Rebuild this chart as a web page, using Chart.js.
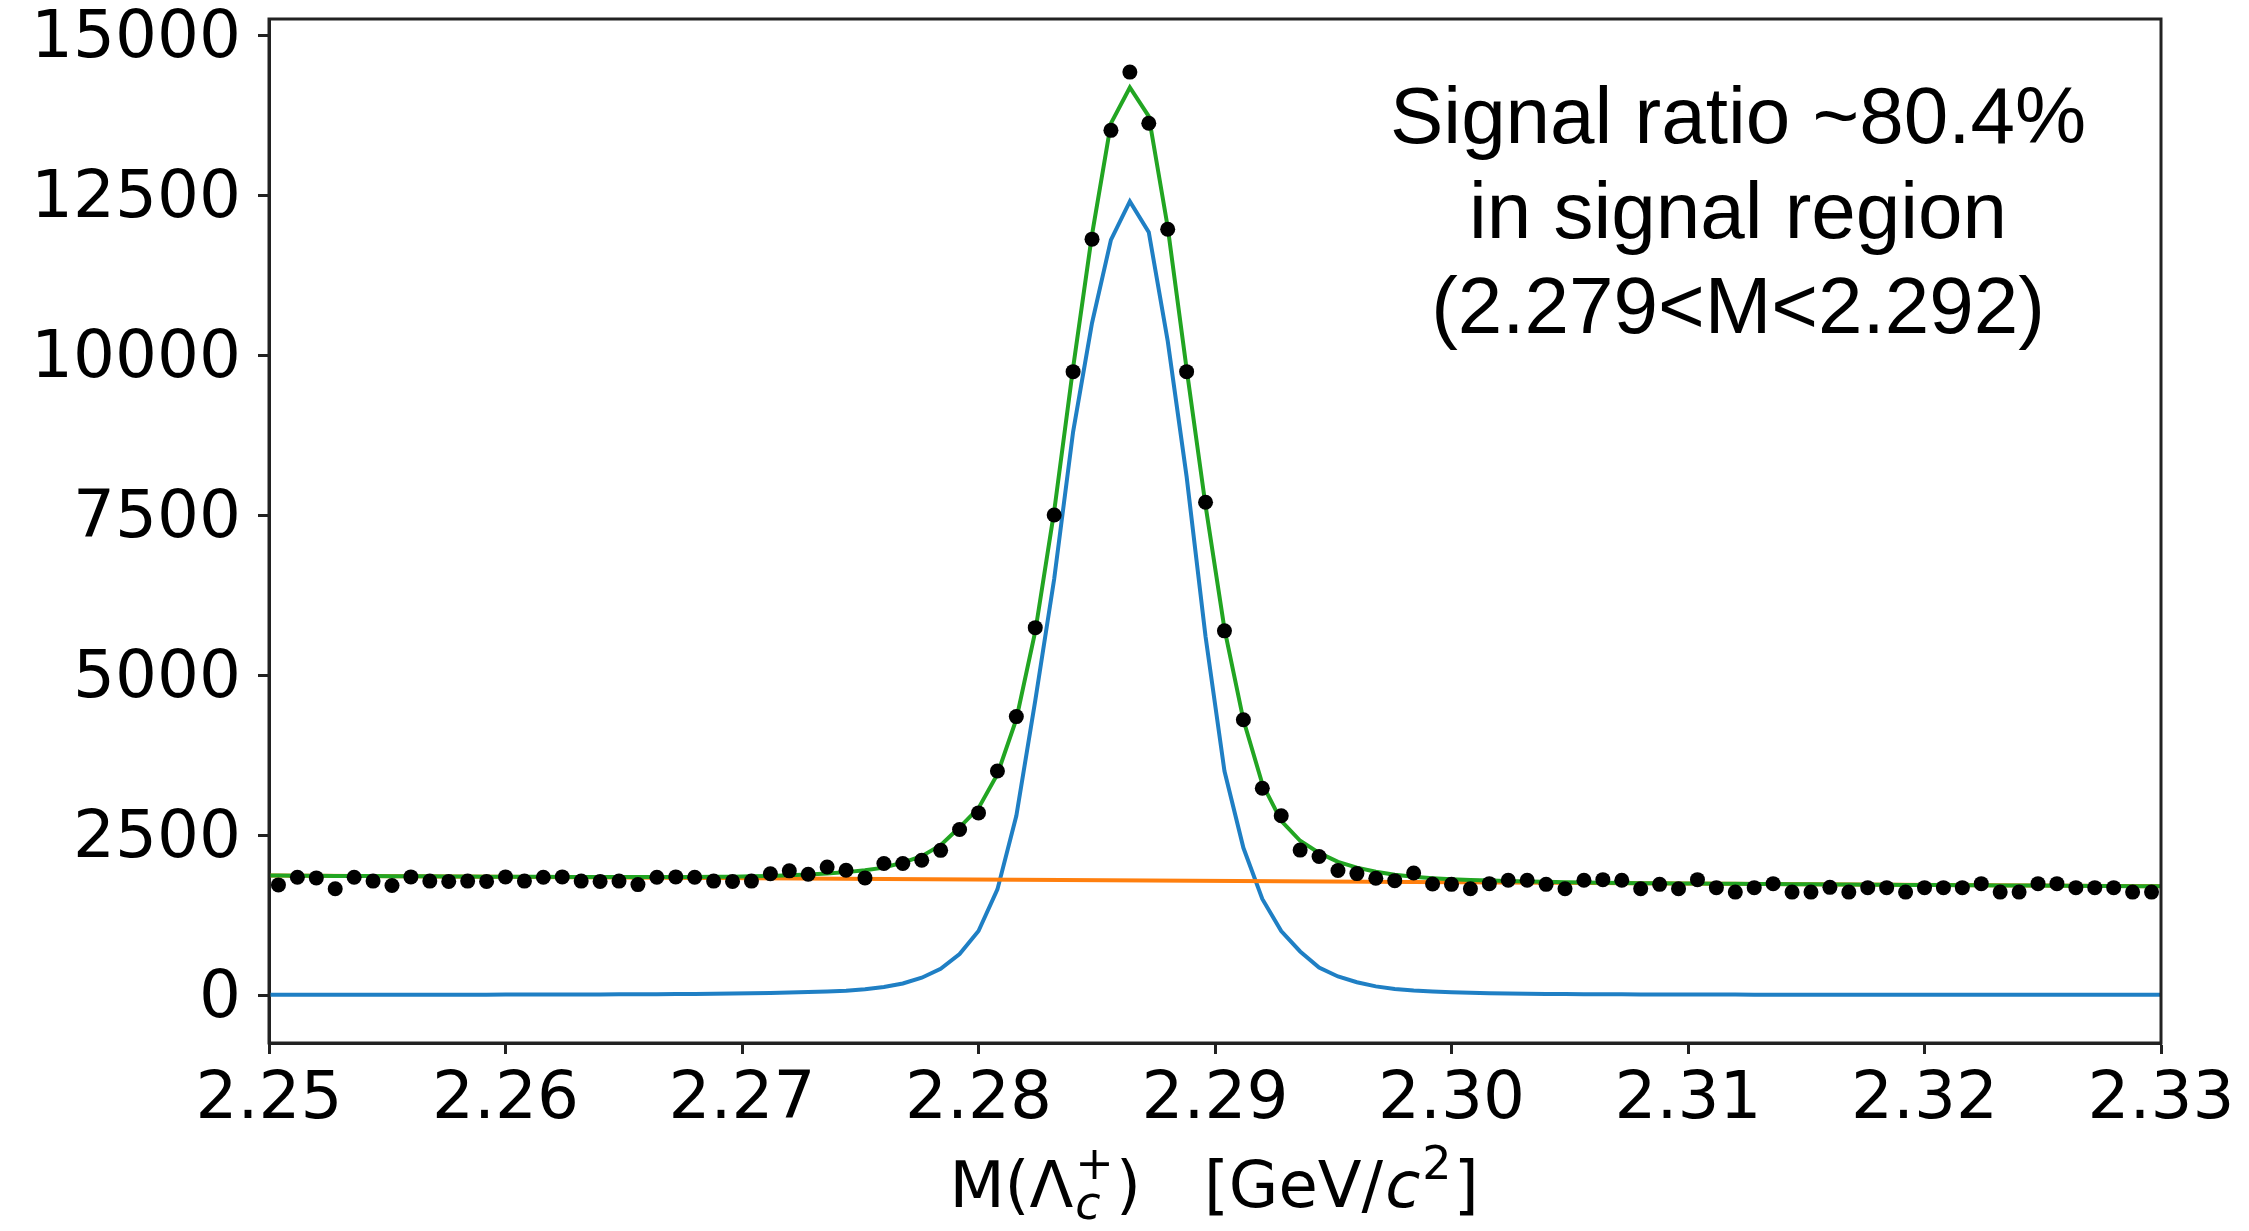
<!DOCTYPE html>
<html>
<head>
<meta charset="utf-8">
<script src="https://cdn.jsdelivr.net/npm/chart.js@4.4.1/dist/chart.umd.min.js"></script>
<style>
  html, body { margin: 0; padding: 0; background: #fff; }
  #wrap { width: 2249px; height: 1231px; }
</style>
</head>
<body>
<div id="wrap"><canvas id="massChart" width="2249" height="1231"></canvas></div>
<script>
// bin centres, 100 bins of 0.8 MeV from 2.25 to 2.33 GeV
const massBins = Array.from({ length: 100 }, (_, i) => +(2.2504 + 0.0008 * i).toFixed(4));

// data points (counts per bin)
const counts = [
  1720, 1840, 1830, 1660, 1840, 1780, 1710, 1845, 1780, 1775,
  1780, 1775, 1845, 1780, 1840, 1845, 1780, 1775, 1780, 1725,
  1840, 1845, 1840, 1780, 1775, 1780, 1895, 1940, 1886, 2001,
  1949, 1830, 2054, 2054, 2106, 2260, 2585, 2845, 3500, 4350,
  5740, 7500, 9740, 11810, 13510, 14420, 13620, 11965, 9740, 7700,
  5690, 4300, 3230, 2800, 2264, 2165, 1945, 1897, 1825, 1787,
  1907, 1735, 1729, 1661, 1740, 1792, 1792, 1729, 1661, 1792,
  1802, 1792, 1661, 1729, 1661, 1802, 1677, 1608, 1677, 1740,
  1608, 1608, 1682, 1608, 1677, 1677, 1608, 1677, 1677, 1677,
  1740, 1608, 1608, 1740, 1740, 1677, 1677, 1677, 1608, 1608
];

// total fit (green)
const totalFit = [
  1866, 1864, 1863, 1861, 1860, 1858, 1857, 1855, 1854, 1852,
  1851, 1849, 1848, 1847, 1846, 1845, 1844, 1843, 1842, 1842,
  1842, 1843, 1844, 1846, 1849, 1854, 1861, 1870, 1882, 1898,
  1920, 1948, 1990, 2070, 2170, 2340, 2620, 2920, 3450, 4310,
  5680, 7560, 9800, 11880, 13620, 14180, 13730, 12000, 9780, 7650,
  5720, 4300, 3300, 2720, 2410, 2220, 2080, 1990, 1925, 1878,
  1848, 1826, 1810, 1798, 1789, 1781, 1774, 1768, 1762, 1757,
  1752, 1750, 1748, 1746, 1744, 1742, 1740, 1738, 1736, 1734,
  1732, 1730, 1728, 1726, 1724, 1722, 1720, 1719, 1717, 1716,
  1714, 1712, 1710, 1709, 1707, 1706, 1704, 1702, 1700, 1698
];

// signal component (blue)
const signalFit = [
  2, 2, 2, 3, 3, 3, 3, 4, 4, 4,
  5, 5, 6, 6, 7, 7, 8, 9, 10, 11,
  12, 14, 16, 19, 22, 26, 31, 38, 46, 56,
  68, 90, 125, 180, 270, 410, 640, 1000, 1650, 2800,
  4600, 6500, 8800, 10500, 11800, 12400, 11920, 10220, 8100, 5600,
  3500, 2300, 1500, 1000, 680, 430, 290, 200, 135, 95,
  70, 53, 42, 34, 28, 23, 19, 16, 14, 12,
  11, 10, 9, 8, 7, 7, 6, 6, 5, 5,
  5, 4, 4, 4, 4, 3, 3, 3, 3, 3,
  3, 2, 2, 2, 2, 2, 2, 2, 2, 2
];

// background component (orange), a straight line
const bkgX = [2.25, 2.33];
const bkgY = [1868, 1700];

const xTickValues = [2.25, 2.26, 2.27, 2.28, 2.29, 2.30, 2.31, 2.32, 2.33];
const yTickValues = [0, 2500, 5000, 7500, 10000, 12500, 15000];

const noteLines = ['Signal ratio ~80.4%', 'in signal region', '(2.279<M<2.292)'];

// curves run edge to edge of the axis
const curve = ys => [{ x: 2.25, y: ys[0] }]
  .concat(massBins.map((x, i) => ({ x, y: ys[i] })))
  .concat([{ x: 2.33, y: ys[ys.length - 1] }]);

const tickFont = { family: 'DejaVu Sans', size: 66 };

const framePlugin = {
  id: 'frame',
  afterDraw(chart) {
    const { ctx, chartArea: a } = chart;
    ctx.save();
    ctx.strokeStyle = '#222';
    ctx.lineWidth = 3;
    ctx.strokeRect(a.left, a.top, a.right - a.left, a.bottom - a.top);

    // annotation
    ctx.fillStyle = '#000';
    ctx.font = '80px "Liberation Sans", Arial, sans-serif';
    ctx.textAlign = 'center';
    ctx.textBaseline = 'alphabetic';
    const baselines = [143, 238, 333];
    noteLines.forEach((t, i) => ctx.fillText(t, 1738, baselines[i]));

    // x axis title: M(Λ_c^+)  [GeV/c^2]
    const big = '64px "DejaVu Sans"';
    const bigIt = 'italic 64px "DejaVu Sans"';
    const small = '46px "DejaVu Sans"';
    const smallIt = 'italic 46px "DejaVu Sans"';
    const parts = [
      { t: 'M(Λ', f: big, dy: 0 },
      { t: 'c', f: smallIt, dy: 12, sup: { t: '+', f: small, dy: -28 } },
      { t: ')', f: big, dy: 0 },
      { t: '   [GeV/', f: big, dy: 0 },
      { t: 'c', f: bigIt, dy: 0 },
      { t: '2', f: small, dy: -28 },
      { t: ']', f: big, dy: 0 }
    ];
    ctx.textAlign = 'left';
    let total = 0;
    parts.forEach(p => {
      ctx.font = p.f;
      p.w = ctx.measureText(p.t).width;
      if (p.sup) {
        ctx.font = p.sup.f;
        p.w = Math.max(p.w, ctx.measureText(p.sup.t).width);
      }
      total += p.w + 2;
    });
    let x = (a.left + a.right) / 2 - total / 2;
    const base = 1207;
    parts.forEach(p => {
      ctx.font = p.f;
      ctx.fillText(p.t, x, base + p.dy);
      if (p.sup) {
        ctx.font = p.sup.f;
        ctx.fillText(p.sup.t, x, base + p.sup.dy);
      }
      x += p.w + 2;
    });
    ctx.restore();
  }
};

new Chart(document.getElementById('massChart'), {
  type: 'scatter',
  data: {
    datasets: [
      {
        label: 'data',
        data: massBins.map((x, i) => ({ x, y: counts[i] })),
        pointRadius: 7.5,
        pointBackgroundColor: '#000',
        pointBorderWidth: 0,
        showLine: false,
        order: 0
      },
      {
        label: 'total',
        data: curve(totalFit),
        showLine: true,
        borderColor: '#22a522',
        borderWidth: 4,
        pointRadius: 0,
        tension: 0,
        order: 1
      },
      {
        label: 'background',
        data: bkgX.map((x, i) => ({ x, y: bkgY[i] })),
        showLine: true,
        borderColor: '#ff7f0e',
        borderWidth: 4,
        pointRadius: 0,
        order: 2
      },
      {
        label: 'signal',
        data: curve(signalFit),
        showLine: true,
        borderColor: '#1f7fc4',
        borderWidth: 4,
        pointRadius: 0,
        tension: 0,
        order: 3
      }
    ]
  },
  options: {
    responsive: false,
    animation: false,
    devicePixelRatio: 1,
    layout: { padding: { top: 19, right: 88, left: 0, bottom: 0 } },
    plugins: { legend: { display: false }, tooltip: { enabled: false } },
    scales: {
      x: {
        type: 'linear',
        min: 2.25,
        max: 2.33,
        afterBuildTicks: s => { s.ticks = xTickValues.map(v => ({ value: v })); },
        afterFit: s => { s.height = 188; s.paddingLeft = 0; s.paddingRight = 0; },
        ticks: {
          callback: v => v.toFixed(2),
          font: tickFont,
          color: '#000',
          padding: 7,
          maxRotation: 0,
          autoSkip: false
        },
        grid: { drawOnChartArea: false, tickLength: 11, tickWidth: 3, tickColor: '#222' },
        border: { display: true, width: 3, color: '#222' }
      },
      y: {
        min: -750,
        max: 15250,
        afterBuildTicks: s => { s.ticks = yTickValues.map(v => ({ value: v })); },
        afterFit: s => { s.width = 269; s.paddingTop = 0; s.paddingBottom = 0; },
        ticks: {
          callback: v => String(v),
          font: tickFont,
          color: '#000',
          padding: 17,
          labelOffset: 5
        },
        grid: { drawOnChartArea: false, tickLength: 11, tickWidth: 3, tickColor: '#222' },
        border: { display: true, width: 3, color: '#222' }
      }
    }
  },
  plugins: [framePlugin]
});
</script>
</body>
</html>
